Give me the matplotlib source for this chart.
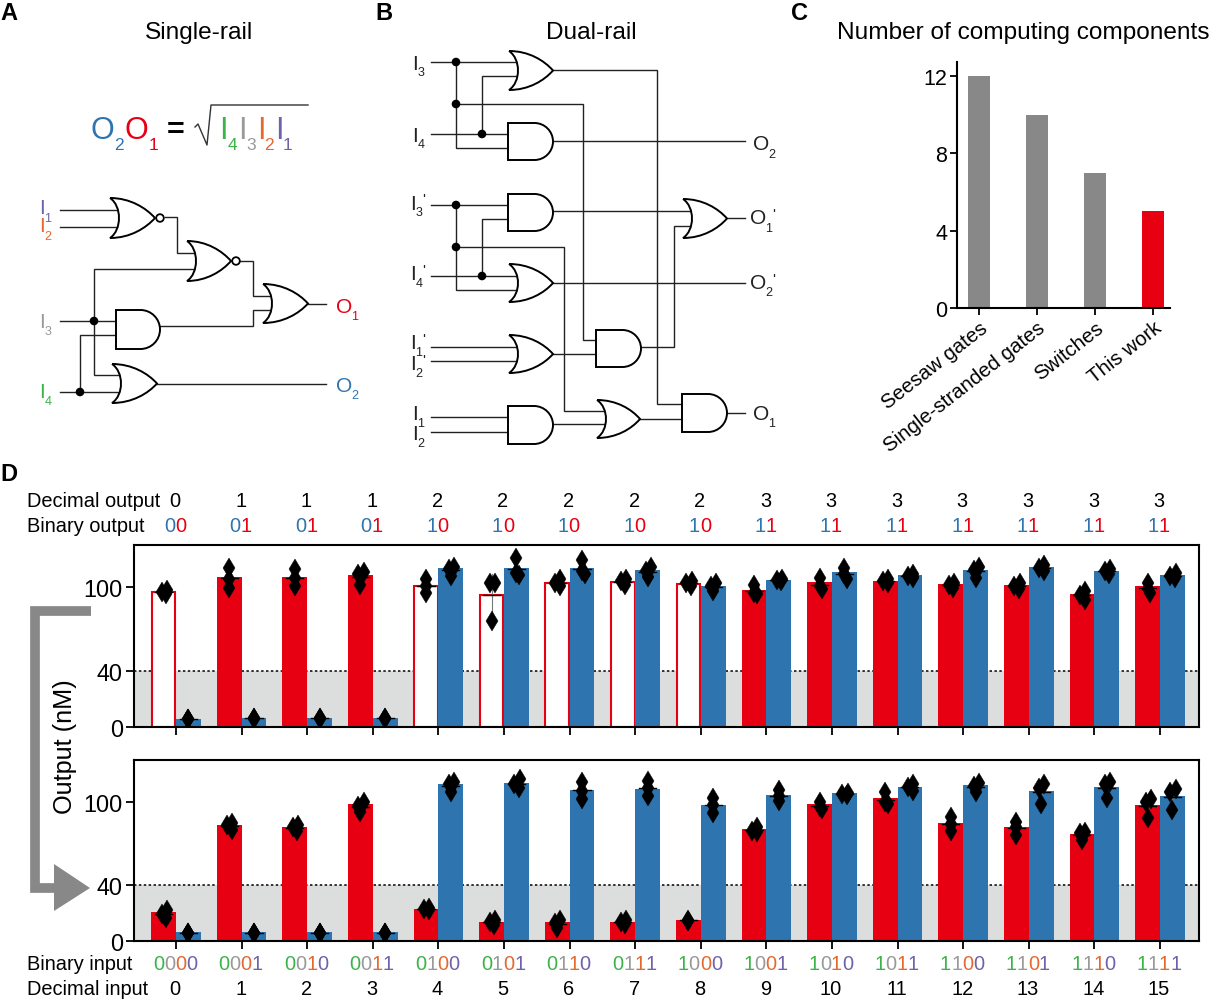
import numpy as np
import matplotlib
matplotlib.use('Agg')
import matplotlib.pyplot as plt
from matplotlib.path import Path
from matplotlib.patches import PathPatch, Circle, Rectangle, Polygon
from matplotlib.transforms import ScaledTranslation

plt.rcParams['font.family'] = ['Liberation Sans', 'DejaVu Sans']

W, H = 1212, 1004

RED = '#E60012'
BLUE = '#2E75B0'
GREEN = '#3AB449'
GRAY = '#999999'
ORANGE = '#E5682F'
PURPLE = '#6F62AB'
BAR_GRAY = '#888888'
BAND = '#DCDDDD'

# -----------------------
# DATA
# -----------------------

components = ['Seesaw gates', 'Single-stranded gates', 'Switches', 'This work']
component_counts = [12, 10, 7, 5]

decimal_output = [0, 1, 1, 1, 2, 2, 2, 2, 2, 3, 3, 3, 3, 3, 3, 3]
binary_output = ['00', '01', '01', '01', '10', '10', '10', '10', '10', '11', '11', '11', '11', '11', '11', '11']
binary_input = ['0000', '0001', '0010', '0011', '0100', '0101', '0110', '0111',
                '1000', '1001', '1010', '1011', '1100', '1101', '1110', '1111']
hollow_top = [0, 4, 5, 6, 7, 8]

top_red = [97, 107.4, 107.4, 108.4, 101, 94.7, 103.6, 104.3, 102.9, 98, 103.6, 104.3, 102, 101.4, 95.2, 100.7]
top_blue = [5.7, 6.4, 6.4, 6.4, 113.4, 113.8, 113.8, 112.4, 101, 105, 110.5, 108.4, 112.4, 114.6, 111.2, 108.8]
low_red = [20.7, 83.4, 81.7, 98.3, 23.3, 14, 13.3, 14, 15.2, 80.3, 98.6, 102.4, 85, 81.7, 77, 97.6]
low_blue = [6.2, 6.4, 6.4, 6.4, 112.8, 113.5, 108.8, 109.5, 98, 105, 106, 110.7, 112, 107.6, 110.7, 103.8]

top_red_pts = [(98, 96.5, 95), (113.8, 105.5, 99.5), (112.6, 106.7, 100.7), (110.7, 109, 101.2),
               (105.5, 101, 95.5), (103, 103, 76), (105.5, 102.6, 100.7), (105.5, 104, 101.7),
               (104.3, 102.6, 100.7), (101.4, 96, 94.7), (106.2, 100.7, 98.3), (105.5, 104, 102.6),
               (103, 101.7, 99.5), (103, 101, 98.3), (97, 94, 91), (103, 98.3, 96)]
top_blue_pts = [(5.9, 5.7, 5.5), (6.6, 6.3, 6), (6.6, 6.3, 6), (6.6, 6.3, 6),
                (114.6, 113, 107.9), (120.8, 109.8, 108.4), (119, 111.5, 109), (114.3, 111.5, 107),
                (103, 100.7, 97), (105.5, 104.8, 104.3), (113.8, 109, 106), (109, 108, 106.4),
                (114.6, 112, 106.7), (115.5, 113.8, 111.5), (113, 111.5, 109), (109.8, 108, 106.4)]
low_red_pts = [(22.3, 19.5, 16.4), (84.6, 83, 79.8), (83.4, 81.7, 78.9), (99.5, 97, 92.4),
               (23.6, 23, 22.5), (15.2, 13.5, 11.6), (15.2, 12.8, 9.3), (15.2, 13.5, 12),
               (15.2, 14.7, 14.3), (82, 79.3, 78), (99.5, 96, 94.8), (107, 99.5, 98.3),
               (88.8, 84, 78.9), (85.3, 81.7, 75.8), (78, 77.7, 72.2), (102, 99.5, 88.4)]
low_blue_pts = [(5.9, 5.7, 5.5), (6, 5.7, 5.5), (6, 5.7, 5.5), (6, 5.7, 5.5),
                (114, 112.6, 107), (116, 113, 109.7), (114.5, 107.8, 102), (115, 110, 104.3),
                (103, 97.6, 91.7), (108.3, 104.3, 100.7), (106, 105.5, 104.8), (113, 110.7, 107.4),
                (113.3, 111.4, 106.7), (112.6, 109.7, 98.3), (114.5, 113, 103), (109, 106.7, 94)]

# schematic layout, in reference pixels: (kind, left, top, bottom, right)
gates = [('nor', 110, 199, 239, 155), ('nor', 187, 242, 282, 231), ('or', 263, 285, 324, 308),
         ('and', 116, 311, 350, 160), ('or', 112, 365, 404, 157),
         ('or', 509, 52, 91, 553), ('and', 508, 124, 161, 553), ('and', 508, 195, 232, 553),
         ('or', 509, 265, 303, 553), ('or', 509, 336, 374, 553), ('and', 508, 407, 445, 553),
         ('and', 596, 331, 368, 641), ('or', 597, 401, 439, 640), ('or', 683, 200, 239, 727),
         ('and', 682, 395, 433, 727)]

wires = [[(60, 211), (119, 211)], [(60, 228), (119, 228)],
         [(165, 218), (177, 218), (177, 254), (196, 254)],
         [(196, 270), (94, 270), (94, 376), (120, 376)],
         [(60, 322), (116, 322)], [(60, 393), (120, 393)],
         [(80, 393), (80, 336), (116, 336)],
         [(160, 327), (253, 327), (253, 311), (272, 311)],
         [(240, 262), (253, 262), (253, 297), (272, 297)],
         [(308, 305), (326, 305)], [(157, 385), (326, 385)],
         [(431, 63), (517, 63)], [(456, 63), (456, 149), (508, 149)],
         [(456, 105), (583, 105), (583, 341), (596, 341)],
         [(431, 135), (508, 135)], [(482, 135), (482, 77), (516, 77)],
         [(553, 71), (657, 71), (657, 405), (682, 405)], [(553, 142), (745, 142)],
         [(431, 206), (508, 206)], [(456, 206), (456, 291), (515, 291)],
         [(456, 248), (564, 248), (564, 412), (604, 412)],
         [(431, 277), (516, 277)], [(482, 277), (482, 220), (508, 220)],
         [(553, 212), (690, 212)], [(553, 284), (745, 284)],
         [(641, 348), (674, 348), (674, 227), (690, 227)], [(727, 219), (745, 219)],
         [(431, 348), (516, 348)], [(431, 362), (516, 362)], [(553, 355), (596, 355)],
         [(431, 418), (508, 418)], [(431, 433), (508, 433)], [(553, 425), (604, 425)],
         [(640, 420), (682, 420)], [(727, 414), (745, 414)]]

dots = [(94, 322), (80, 393), (456, 63), (456, 105), (482, 135),
        (456, 206), (456, 248), (482, 277)]

# (main, sub, prime, color, x, y)
pins = [('I', '1', False, PURPLE, 42, 207), ('I', '2', False, ORANGE, 42, 225),
        ('I', '3', False, GRAY, 42, 321), ('I', '4', False, GREEN, 42, 391),
        ('O', '1', False, RED, 344, 306), ('O', '2', False, BLUE, 344, 385),
        ('I', '3', False, '#222222', 415, 62), ('I', '4', False, '#222222', 415, 134),
        ('I', '3', True, '#222222', 413, 202), ('I', '4', True, '#222222', 413, 273),
        ('I', '1', True, '#222222', 413, 342), ('I', '2', True, '#222222', 413, 363),
        ('I', '1', False, '#222222', 415, 413), ('I', '2', False, '#222222', 415, 433),
        ('O', '2', False, '#222222', 761, 143), ('O', '1', True, '#222222', 758, 217),
        ('O', '2', True, '#222222', 758, 282), ('O', '1', False, '#222222', 761, 413)]


# -----------------------
# HELPERS
# -----------------------

def px_axes(fig, left, top, right, bottom):
    return fig.add_axes([left / W, 1 - bottom / H, (right - left) / W, (bottom - top) / H])


def txt(ax, x, y, s, **kw):
    # va center sits a little high for digits and capitals
    kw.setdefault('va', 'center')
    return ax.text(x, y + 2, s, **kw)


def draw_gate(ax, kind, x0, top, bot, x1):
    mid = (top + bot) / 2
    if kind == 'and':
        r = (bot - top) / 2
        verts = [(x0, top), (x1 - r, top),
                 (x1 - r * 0.45, top), (x1, mid - r * 0.55), (x1, mid),
                 (x1, mid + r * 0.55), (x1 - r * 0.45, bot), (x1 - r, bot),
                 (x0, bot), (x0, top)]
        codes = [Path.MOVETO, Path.LINETO, Path.CURVE4, Path.CURVE4, Path.CURVE4,
                 Path.CURVE4, Path.CURVE4, Path.CURVE4, Path.LINETO, Path.CLOSEPOLY]
    else:
        w = x1 - x0
        verts = [(x0, top),
                 (x0 + w * 0.45, top), (x0 + w * 0.8, mid - 10), (x1, mid),
                 (x0 + w * 0.8, mid + 10), (x0 + w * 0.45, bot), (x0, bot),
                 (x0 + 12, bot - 8), (x0 + 12, top + 8), (x0, top)]
        codes = [Path.MOVETO, Path.CURVE4, Path.CURVE4, Path.CURVE4, Path.CURVE4,
                 Path.CURVE4, Path.CURVE4, Path.CURVE4, Path.CURVE4, Path.CURVE4]
    ax.add_patch(PathPatch(Path(verts, codes), fc='white', ec='black', lw=1.4, zorder=3))
    if kind == 'nor':
        ax.add_patch(Circle((x1 + 5, mid), 3.8, fc='white', ec='black', lw=1.3, zorder=4))


def pin_label(ax, main, sub, prime, color, x, y):
    txt(ax, x, y, main, color=color, fontsize=15, ha='center')
    off = 11 if main == 'O' else 6
    txt(ax, x + off, y + 9.5, sub, color=color, fontsize=9, ha='center')
    if prime:
        txt(ax, x + off + 5, y - 4, "'", color=color, fontsize=11, ha='center')


def colored_bits(ax, x, y, bits, colors, size=14.4):
    # centre a string whose characters each have their own colour
    width = size * 100 / 72 * 0.556
    start = x - width * len(bits) / 2
    for i, (b, c) in enumerate(zip(bits, colors)):
        txt(ax, start + width * (i + 0.5), y, b, color=c, fontsize=size, ha='center')


def swarm(pts):
    # nudge replicates sideways when they sit on top of each other
    offs = [0.0, 0.0, 0.0]
    if pts[0] - pts[2] < 1:
        return offs
    if pts[0] - pts[1] < 3.5:
        offs[0], offs[1] = 0.05, -0.03
    if pts[1] - pts[2] < 3.5:
        offs[2] = 0.04 if offs[1] <= 0 else -0.04
    return offs


def bar_panel(ax, red, blue, red_pts, blue_pts, hollow):
    x = np.arange(16)
    bw = 0.378
    ax.add_patch(Rectangle((-1, 0), 18, 40, fc=BAND, ec='none', zorder=0))
    ax.axhline(40, color='black', lw=1.1, ls=(0, (1.6, 1.6)), zorder=1)
    for i in x:
        if i in hollow:
            ax.bar(i - bw / 2, red[i] - 0.4, bw - 0.02, bottom=0, fc='white', ec=RED, lw=1.5, zorder=2)
        else:
            ax.bar(i - bw / 2, red[i], bw, fc=RED, ec='none', zorder=2)
    ax.bar(x + bw / 2, blue, bw, fc=BLUE, ec='none', zorder=2)

    for shift, series in ((-bw / 2, red_pts), (bw / 2, blue_pts)):
        for i, pts in enumerate(series):
            xc = i + shift
            m, s = np.mean(pts), np.std(pts, ddof=1)
            ax.plot([xc, xc], [m - s, m + s], color='#777777', lw=0.8, zorder=3)
            ax.plot([xc - 0.13, xc + 0.13], [m, m], color='black', lw=1, zorder=3)
            ax.plot(xc + np.array(swarm(pts)), pts, ls='none', marker='d', ms=10,
                    mfc='black', mec='black', mew=0.3, zorder=4)

    ax.set_xlim(-0.64, 15.595)
    ax.set_ylim(0, 130)
    ax.set_yticks([0, 40, 100])
    ax.set_xticks(x)
    ax.set_xticklabels([])
    ax.tick_params(axis='y', labelsize=16.8, length=6, width=1.3, pad=2)
    ax.tick_params(axis='x', length=6, width=1.3)
    for sp in ax.spines.values():
        sp.set_linewidth(1.5)


# -----------------------
# FIGURE
# -----------------------

fig = plt.figure(figsize=(W / 100, H / 100), dpi=100)

# overlay in reference pixels for schematics and loose text
ov = fig.add_axes([0, 0, 1, 1], zorder=5)
ov.set_xlim(0, W)
ov.set_ylim(H, 0)
ov.axis('off')
ov.patch.set_alpha(0)

for label, lx, ly in [('A', 9, 12), ('B', 384, 12), ('C', 799, 12), ('D', 9, 473)]:
    txt(ov, lx, ly, label, fontsize=17, fontweight='bold', ha='center')
for title, tx in [('Single-rail', 199), ('Dual-rail', 591), ('Number of computing components', 1023)]:
    txt(ov, tx, 31, title, fontsize=17.6, ha='center')

for w in wires:
    xs, ys = zip(*w)
    ov.plot(xs, ys, color='#222222', lw=1.0, zorder=2, solid_joinstyle='miter')
for g in gates:
    draw_gate(ov, *g)
for d in dots:
    ov.add_patch(Circle(d, 4.3, fc='black', ec='none', zorder=5))
for p in pins:
    pin_label(ov, *p)

# formula of panel A
formula = [('O', '2', BLUE, 102, 119), ('O', '1', RED, 136, 153), ('I', '4', GREEN, 223, 232),
           ('I', '3', GRAY, 242, 251), ('I', '2', ORANGE, 261, 269), ('I', '1', PURPLE, 279, 288)]
for main, sub, c, mx, sx in formula:
    txt(ov, mx, 129, main, color=c, fontsize=22, ha='center')
    txt(ov, sx, 143, sub, color=c, fontsize=12.5, ha='center')
txt(ov, 176, 129, '=', fontsize=22, fontweight='bold', ha='center')
ov.plot([195, 198, 207, 211, 308], [128, 125, 146, 106, 106], color='#333333', lw=1.0)

# panel C
ax_c = px_axes(fig, 957, 63, 1170, 309)
ax_c.bar(range(4), component_counts, width=0.38, color=[BAR_GRAY, BAR_GRAY, BAR_GRAY, RED])
ax_c.set_xlim(-0.38, 3.29)
ax_c.set_ylim(0, 12.72)
ax_c.set_yticks([0, 4, 8, 12])
ax_c.set_xticks(range(4))
ax_c.set_xticklabels(components, rotation=38, ha='right', rotation_mode='anchor', fontsize=14.7)
nudge = ScaledTranslation(3 / 100, 3.5 / 100, fig.dpi_scale_trans)
for lab in ax_c.get_xticklabels():
    lab.set_transform(lab.get_transform() + nudge)
ax_c.tick_params(axis='y', labelsize=15.5, length=5, width=1.3, pad=2)
ax_c.tick_params(axis='x', length=5, width=1.3, pad=2)
ax_c.spines[['top', 'right']].set_visible(False)
ax_c.spines[['left', 'bottom']].set_linewidth(1.5)

# panel D
ax_top = px_axes(fig, 134, 546, 1199, 728)
bar_panel(ax_top, top_red, top_blue, top_red_pts, top_blue_pts, hollow_top)
ax_low = px_axes(fig, 134, 761, 1199, 942)
bar_panel(ax_low, low_red, low_blue, low_red_pts, low_blue_pts, [])

centers = [175 + 65.6 * i for i in range(16)]
txt(ov, 27, 500, 'Decimal output', fontsize=14.4)
txt(ov, 27, 525, 'Binary output', fontsize=14.4)
txt(ov, 27, 963, 'Binary input', fontsize=14.4)
txt(ov, 27, 988, 'Decimal input', fontsize=14.4)
for i, cx in enumerate(centers):
    txt(ov, cx, 500, str(decimal_output[i]), fontsize=14.4, ha='center')
    colored_bits(ov, cx, 525, binary_output[i], [BLUE, RED])
    colored_bits(ov, cx, 963, binary_input[i], [GREEN, GRAY, ORANGE, PURPLE])
    txt(ov, cx, 988, str(i), fontsize=14.4, ha='center')

txt(ov, 65, 745, 'Output (nM)', fontsize=18.2, rotation=90, ha='center')

# grey arrow between the two bar panels
ov.plot([91, 34.5, 34.5, 60], [612, 612, 889, 889], color=BAR_GRAY, lw=7, solid_joinstyle='miter',
        solid_capstyle='butt')
ov.add_patch(Polygon([(54, 865), (54, 912), (90, 889)], closed=True, fc=BAR_GRAY, ec='none'))

fig.savefig('out.png', dpi=100)
